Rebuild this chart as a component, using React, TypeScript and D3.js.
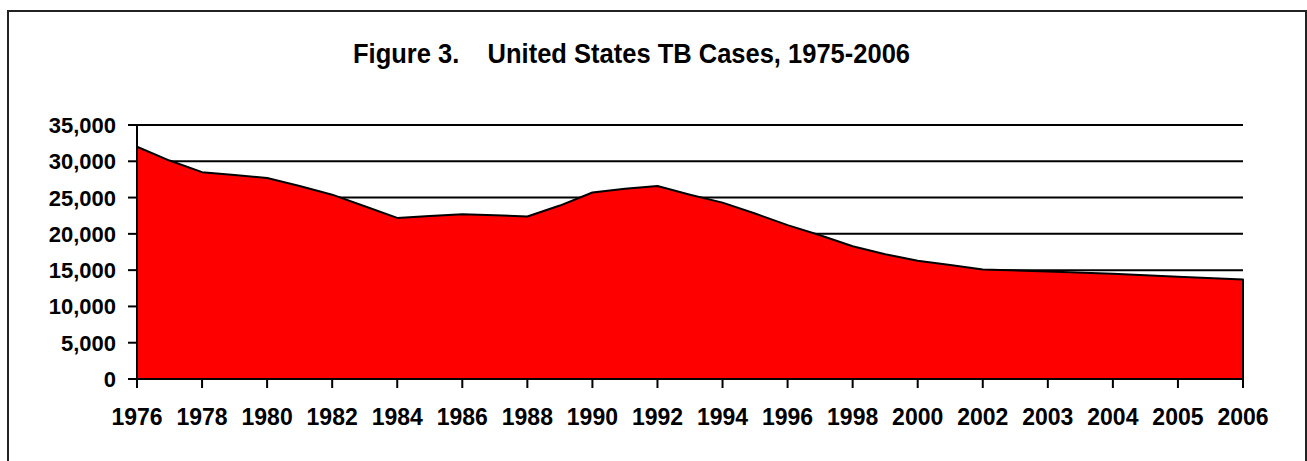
import React from 'react';
import * as d3 from 'd3';

// annual cases
const years = [
  1976, 1977, 1978, 1979, 1980, 1981, 1982, 1983, 1984, 1985, 1986, 1987, 1988, 1989,
  1990, 1991, 1992, 1993, 1994, 1995, 1996, 1997, 1998, 1999, 2000, 2001, 2002,
  2003, 2004, 2005, 2006,
];
const cases = [
  32000, 30100, 28500, 28100, 27700, 26600, 25400, 23800, 22200, 22450, 22700, 22550, 22400, 23900,
  25700, 26200, 26600, 25400, 24300, 22800, 21200, 19800, 18300, 17200, 16300, 15700, 15100,
  14800, 14500, 14100, 13700,
];
const tickYears = [
  1976, 1978, 1980, 1982, 1984, 1986, 1988, 1990, 1992, 1994, 1996, 1998, 2000, 2002,
  2003, 2004, 2005, 2006,
];
const yTicks = [0, 5000, 10000, 15000, 20000, 25000, 30000, 35000];
const title = 'Figure 3.    United States TB Cases, 1975-2006';

// the axis is annual up to 2002, then one label per year at the wider spacing
const slot = (yr: number) => (yr <= 2002 ? yr - 1976 : 26 + 2 * (yr - 2002));

export default function App() {
  const W = 1307;
  const H = 461;
  const left = 137, right = 1243, top = 125, bottom = 379;

  const x = d3.scaleLinear().domain([0, 34]).range([left, right]);
  const y = d3.scaleLinear().domain([0, 35000]).range([bottom, top]);

  const data = years.map((yr, i) => ({ yr, v: cases[i] }));
  const area = d3.area<{ yr: number; v: number }>()
    .x(d => x(slot(d.yr)))
    .y0(y(0))
    .y1(d => y(d.v));

  const font = 'Arial, "Liberation Sans", sans-serif';

  return (
    <svg width={W} height={H} style={{ position: 'absolute', left: 0, top: 0 }}
      fontFamily={font} fontWeight="bold">
      <rect x={0} y={0} width={W} height={H} fill="#fff" />
      <rect x={8} y={11} width={1298} height={470} fill="none" stroke="#222" strokeWidth={2} />

      <text x={353} y={63} fontSize={27} textLength={557} lengthAdjust="spacingAndGlyphs"
        style={{ whiteSpace: 'pre' }}>{title}</text>

      {/* gridlines */}
      {yTicks.filter(t => t > 0).map(t => (
        <line key={t} x1={left} x2={right} y1={y(t)} y2={y(t)} stroke="#000" strokeWidth={2} />
      ))}

      <path d={area(data) || ''} fill="#ff0000" stroke="#000" strokeWidth={2} strokeLinejoin="round" />

      {/* y axis */}
      <line x1={left} x2={left} y1={top} y2={bottom} stroke="#000" strokeWidth={2} />
      {yTicks.map(t => (
        <g key={t}>
          <line x1={left - 9} x2={left} y1={y(t)} y2={y(t)} stroke="#000" strokeWidth={2} />
          <text x={116} y={y(t) + 8} fontSize={22} textAnchor="end">{d3.format(',')(t)}</text>
        </g>
      ))}

      {/* x axis */}
      <line x1={left} x2={right} y1={bottom} y2={bottom} stroke="#000" strokeWidth={2} />
      {d3.range(0, 35, 2).map(s => (
        <line key={s} x1={x(s)} x2={x(s)} y1={bottom} y2={bottom + 9} stroke="#000" strokeWidth={2} />
      ))}
      {tickYears.map(yr => (
        <text key={yr} x={x(slot(yr))} y={425} fontSize={23} textAnchor="middle">{yr}</text>
      ))}
    </svg>
  );
}
